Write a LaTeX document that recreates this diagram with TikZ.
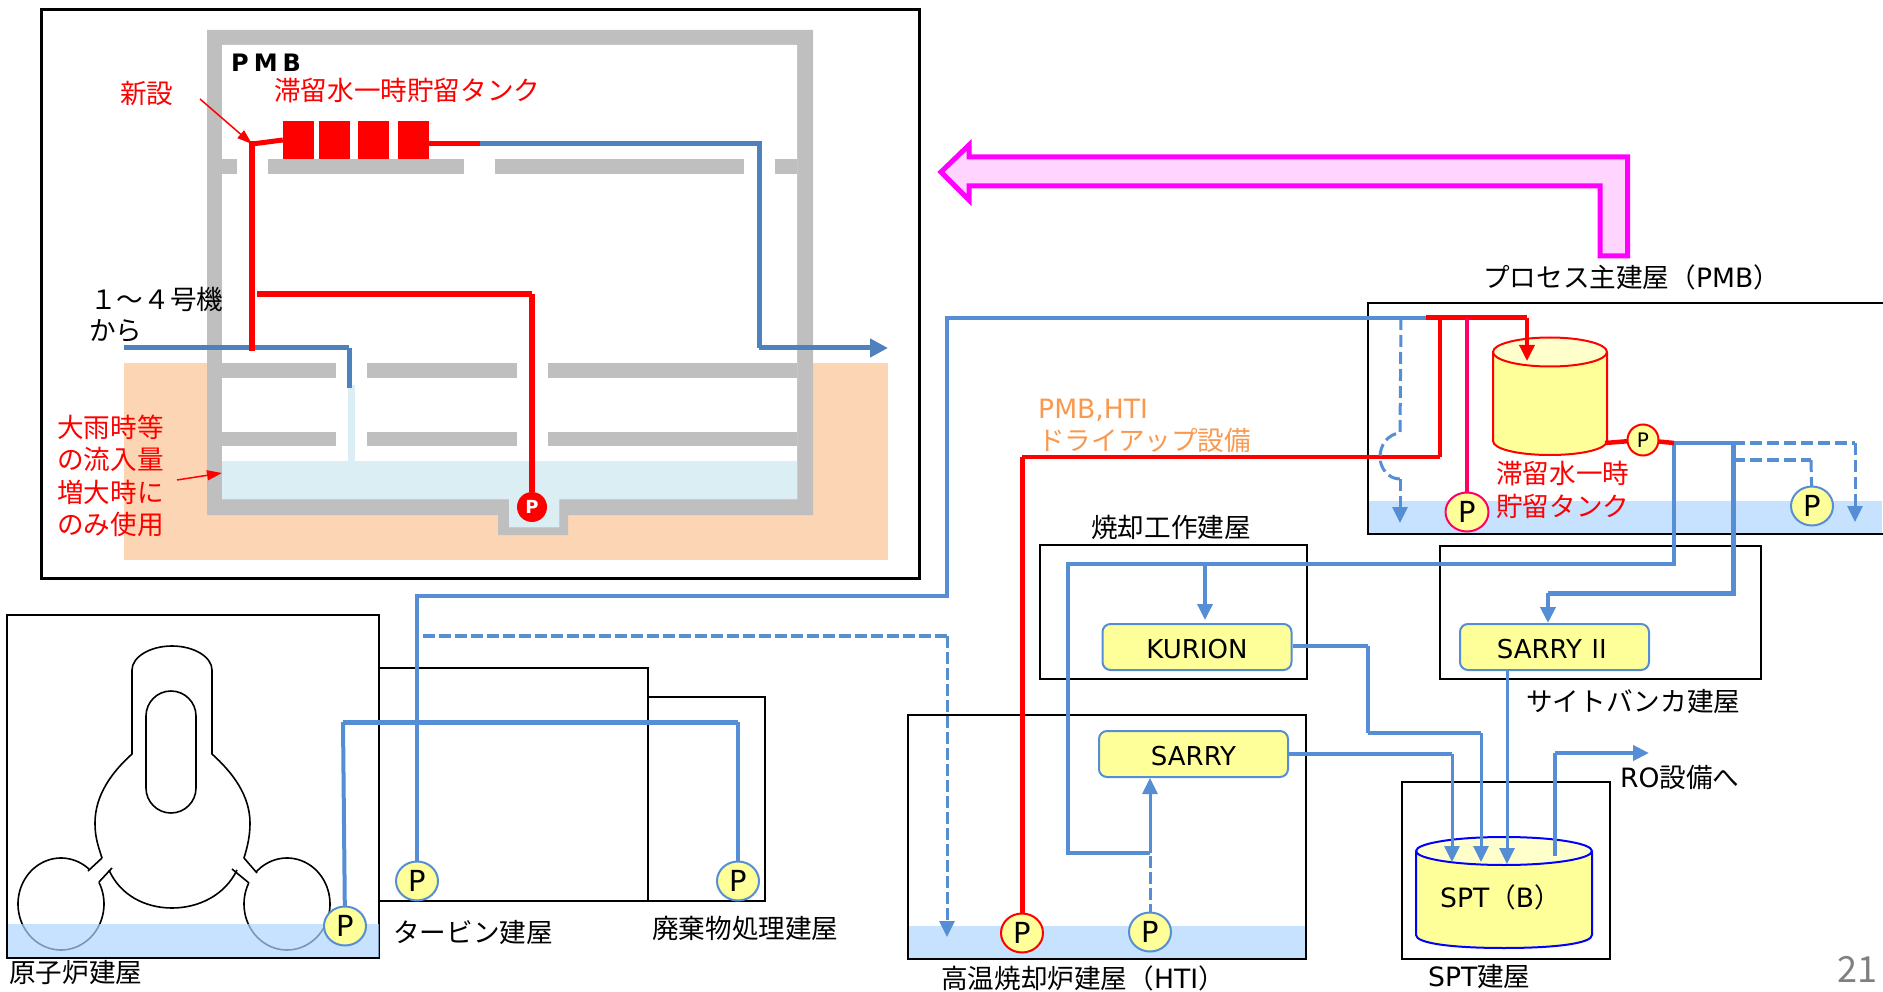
\documentclass[tikz,border=0pt]{standalone}
\usepackage{fontspec}
\setmainfont{Noto Sans CJK JP}
\newfontfamily\lat{DejaVu Sans}
\usetikzlibrary{arrows.meta,shapes.geometric}
\definecolor{wallgrey}{HTML}{BFBFBF}
\definecolor{soil}{HTML}{FCD5B4}
\definecolor{pool}{HTML}{DBEEF4}
\definecolor{waterblue}{HTML}{C6E2FF}
\definecolor{waterglass}{HTML}{AED6FF}
\definecolor{pipeblue}{HTML}{558ED5}
\definecolor{steelblue}{HTML}{4F81BD}
\definecolor{tankyellow}{HTML}{FFFF99}
\definecolor{tanktop}{HTML}{FFFFCC}
\definecolor{hotpink}{HTML}{FF0066}
\definecolor{drynote}{HTML}{F9994F}
\definecolor{bigpink}{HTML}{FFD5FF}
\definecolor{bigedge}{HTML}{FF00FF}
\tikzset{
  bldg/.style={draw=black,line width=2.5pt,fill=none,outer sep=0pt},
  txt/.style={inner sep=0pt,font=\fontsize{26.6}{32}\selectfont,align=left},
  rtxt/.style={txt,text=red},
  floorslab/.style={fill=wallgrey,draw=none},
  plant/.style={draw=pipeblue,line width=2pt,fill=tankyellow,rounded corners=8pt,minimum width=189pt,minimum height=46pt,inner sep=0pt,text height=22pt,text depth=0pt,font=\lat\fontsize{26}{32}\selectfont},
  pumpnode/.style={ellipse,draw=pipeblue,line width=2pt,fill=tankyellow,minimum width=42pt,minimum height=39pt,inner sep=0pt,font=\lat\fontsize{29}{32}\selectfont},
  pipe/.style={draw=pipeblue,line width=4pt},
  fatpipe/.style={draw=pipeblue,line width=5pt},
  dashpipe/.style={draw=pipeblue,line width=4pt,dash pattern=on 12pt off 4pt},
  redpipe/.style={draw=red,line width=5pt},
  tipb/.style={-{Triangle[length=16pt,width=15pt]}},
  thinred/.style={draw=red,line width=1.5pt,-{Triangle[length=15pt,width=10pt]}},
  core/.style={draw=black,line width=1.6pt}
}
\begin{document}
\begin{tikzpicture}[x=1pt,y=-1pt]
\useasboundingbox (0,0) rectangle (1883,992);
% ---------- PMB detail panel
\node[draw=black,line width=3pt,minimum width=878pt,minimum height=568pt,inner sep=0pt] (panel) at (480,294) {};
\fill[soil] (124,363) rectangle (888,560);
\fill[wallgrey] (207,30) -- (813,30) -- (813,515) -- (568,515) -- (568,535) -- (498,535) -- (498,515) -- (207,515) -- cycle;
\fill[white] (222,45) -- (797,45) -- (797,499) -- (559,499) -- (559,527) -- (509,527) -- (509,499) -- (222,499) -- cycle;
\fill[pool] (222,461) -- (797,461) -- (797,499) -- (559,499) -- (559,527) -- (509,527) -- (509,499) -- (222,499) -- cycle;
\fill[pool] (348,385) rectangle (355,461);
\foreach \a/\b in {222/237,268/464,495/744,775/797} \path[floorslab] (\a,159) rectangle (\b,174);
\foreach \a/\b in {222/336,367/517,548/797} {\path[floorslab] (\a,363) rectangle (\b,378); \path[floorslab] (\a,432) rectangle (\b,446);}
\foreach \n/\a/\b in {t1/283/314,t2/319/350,t3/358/389,t4/398/429}
  \node[fill=red,minimum width=\b pt-\a pt,minimum height=38pt,inner sep=0pt] (\n) at ({(\a+\b)/2},140) {};
\coordinate (topleft) at (252,144);
\coordinate (topmid) at (480,144);
\coordinate (topright) at (759,144);
\coordinate (exitb) at (759,348);
\coordinate (exitend) at (888,348);
\coordinate (inlet) at (124,348);
\coordinate (inletb) at (349,348);
\coordinate (inletend) at (349,388);
\coordinate (redjoin) at (252,348);
\coordinate (redup) at (257,294);
\coordinate (redbend) at (532,294);
\node[circle,fill=red,minimum size=30pt,inner sep=0pt,text=white,font=\lat\bfseries\fontsize{18}{20}\selectfont] (pPmbIn) at (532,507) {P};
\draw[draw=steelblue,line width=5pt] (inlet) -- (inletb);
\draw[draw=steelblue,line width=5pt] (inletb) -- (inletend);
\draw[draw=steelblue,line width=5pt] (topmid) -- (topright) -- (exitb);
\draw[draw=steelblue,line width=5pt,-{Triangle[length=18pt,width=18pt]}] (exitb) -- (exitend);
\draw[redpipe] (topleft) -- (t1.west);
\draw[redpipe] (t4.east |- topmid) -- (topmid);
\draw[redpipe,line width=6.5pt,line cap=rect] (topleft) -- (redjoin);
\draw[redpipe,line width=6.5pt] (redup) -- (redbend);
\draw[redpipe,line width=6pt] (redbend) -- (pPmbIn);
\node[inner sep=0pt,anchor=west,font=\lat\bfseries\fontsize{24}{30}\selectfont] (lPmb) at (231,63) {P\kern 5pt M\kern 5pt B};
\node[rtxt,anchor=west] (lNew) at (120,94) {新設};
\node[rtxt,anchor=west] (lTank) at (274,90.5) {滞留水一時貯留タンク};
\node[txt,anchor=west] (lFrom) at (90,299) {１～４号機};
\node[txt,anchor=west] (lFrom2) at (89,331) {から};
\node[rtxt,anchor=west,font=\fontsize{26.6}{32.5}\selectfont] (lRain) at (57,476) {大雨時等\\の流入量\\増大時に\\のみ使用};
\coordinate (newfrom) at (200,99);
\coordinate (rainfrom) at (177,480);
\coordinate (rainto) at (222,473);
\draw[thinred] (newfrom) -- (topleft);
\draw[thinred] (rainfrom) -- (rainto);
% ---------- big transfer arrow
\draw[draw=bigedge,line width=5pt,fill=bigpink,miter limit=10] (941,172) -- (969,145) -- (969,157) -- (1627.5,157) -- (1627.5,256) -- (1600,256) -- (1600,186) -- (969,186) -- (969,200) -- cycle;
% ---------- reactor building
\node[bldg,minimum width=372pt,minimum height=343pt,inner sep=0pt] (rb) at (193,786.5) {};
\node[bldg,minimum width=269pt,minimum height=233pt,inner sep=0pt] (tb) at (513.5,784.5) {};
\node[bldg,minimum width=117pt,minimum height=204pt,inner sep=0pt] (wb) at (706.5,799) {};
\draw[core] (102,858) .. controls (97,843) and (95,835) .. (95,823) .. controls (95,795) and (112,772) .. (132,754) -- (132,670) .. controls (132,657) and (150,646) .. (172,646) .. controls (194,646) and (212,657) .. (212,670) -- (212,754) .. controls (232,772) and (250,795) .. (250,823) .. controls (250,835) and (248,845) .. (244,858);
\draw[core] (109,870) .. controls (120,895) and (145,908) .. (172,908) .. controls (199,908) and (225,895) .. (237,870);
\draw[core,rounded corners=25pt] (146,691) rectangle (196,813);
\draw[core] plot[domain=-28:311,samples=80] ({61+43*cos(\x)},{904+46*sin(\x)});
\draw[core] plot[domain=-136:207,samples=80] ({287+43*cos(\x)},{904+46*sin(\x)});
\draw[core] (102,858) -- (88,871);
\draw[core] (112,868) -- (99,882);
\draw[core] (244,858) -- (257,873);
\draw[core] (232,869) -- (249,883);
\fill[waterglass,opacity=.7] (8,924) rectangle (379,957);
% ---------- other buildings
\node[bldg,minimum width=267pt,minimum height=134pt,inner sep=0pt] (kb) at (1173.5,612) {};
\node[bldg,minimum width=321pt,minimum height=133pt,inner sep=0pt] (sb) at (1600.5,612.5) {};
\fill[waterblue] (908,926) rectangle (1306,959);
\node[bldg,minimum width=398pt,minimum height=244pt,inner sep=0pt] (hb) at (1107,837) {};
\node[bldg,minimum width=208pt,minimum height=177pt,inner sep=0pt] (sptb) at (1506,870.5) {};
\fill[waterblue] (1368,501) rectangle (1882,534);
\draw[black,line width=2.5pt] (1883,303) -- (1368,303) -- (1368,534) -- (1883,534);
% ---------- plant boxes
\node[plant] (kurion) at (1197,647) {KURION};
\node[plant] (sarry2) at (1554.5,647) {SARRY\,{\fontfamily{\rmdefault}\selectfont Ⅱ}};
\node[plant] (sarry) at (1193.5,754) {SARRY};
% ---------- tanks
\fill[tankyellow] (1493,352) -- (1493,441) .. controls (1493,449) and (1518,455) .. (1550,455) .. controls (1582,455) and (1607,449) .. (1607,441) -- (1607,352) -- cycle;
\draw[red,line width=2pt] (1493,352) -- (1493,441) .. controls (1493,449) and (1518,455) .. (1550,455) .. controls (1582,455) and (1607,449) .. (1607,441) -- (1607,352);
\node[ellipse,draw=red,line width=2pt,fill=tanktop,minimum width=114pt,minimum height=29pt,inner sep=0pt] (tankP) at (1550,352) {};
\fill[tankyellow] (1416,852) -- (1416,935) .. controls (1416,943) and (1450,948) .. (1504,948) .. controls (1558,948) and (1592,943) .. (1592,935) -- (1592,852) -- cycle;
\draw[blue,line width=2pt] (1416,852) -- (1416,935) .. controls (1416,943) and (1450,948) .. (1504,948) .. controls (1558,948) and (1592,943) .. (1592,935) -- (1592,852);
\node[ellipse,draw=blue,line width=2pt,fill=tanktop,minimum width=176pt,minimum height=28pt,inner sep=0pt] (tankS) at (1504,851) {};
% ---------- pipe end points
\coordinate (pR) at (345,926);
\coordinate (pT) at (417,881);
\coordinate (pW) at (738,881);
\coordinate (pH1) at (1022,933);
\coordinate (pH2) at (1150,932);
\coordinate (pP1) at (1467,512);
\coordinate (pP2) at (1812,506);
\coordinate (pTk) at (1643,440);
\coordinate (a1) at (417,596);
\coordinate (a2) at (947,596);
\coordinate (a3) at (947,318);
\coordinate (a4) at (1426,318);
\coordinate (d1) at (423,636);
\coordinate (d2) at (947,636);
\coordinate (d3) at (947,937);
\coordinate (b1) at (343,722);
\coordinate (b2) at (738,722);
\coordinate (j1) at (1674,443);
\coordinate (j2) at (1733,443);
\coordinate (j3) at (1674,564);
\coordinate (j4) at (1068,564);
\coordinate (j5) at (1068,853);
\coordinate (j6) at (1150,853);
\coordinate (j7) at (1205,564);
\coordinate (k1) at (1733,593);
\coordinate (k2) at (1548,593);
\coordinate (k3) at (1368,646);
\coordinate (k4) at (1368,733);
\coordinate (k5) at (1481,733);
\coordinate (k6) at (1481,862);
\coordinate (s1) at (1452,754);
\coordinate (s2) at (1452,862);
\coordinate (s3) at (1507,864);
\coordinate (o1) at (1555,856);
\coordinate (o2) at (1555,753);
\coordinate (o3) at (1649,753);
% ---------- blue network
\draw[pipe] (pT) -- (a1) -- (a2) -- (a3) -- (a4);
\draw[dashpipe] (d1) -- (d2);
\draw[draw=pipeblue,line width=3pt,dash pattern=on 12pt off 4pt,tipb] (d2) -- (d3);
\draw[pipe] (pR) -- (b1);
\draw[fatpipe] (b1) -- (b2);
\draw[pipe] (b2) -- (pW);
\draw[pipe] (j1) -- (j3) -- (j4) -- (j5) -- (j6);
\draw[fatpipe] (j2) -- (k1) -- (k2);
\draw[pipe] (j1) -- (j2);
\draw[draw=pipeblue,line width=4pt,tipb] (k2) -- (k2 |- sarry2.north);
\draw[draw=pipeblue,line width=3.5pt,tipb] (j7) -- (j7 |- 0,620);
\draw[draw=pipeblue,line width=4.5pt] (kurion.east |- k3) -- (k3);
\draw[draw=pipeblue,line width=3.7pt] (k3) -- (k4);
\draw[draw=pipeblue,line width=4pt] (k4) -- (k5);
\draw[draw=pipeblue,line width=3pt,tipb] (k5) -- (k6);
\draw[draw=pipeblue,line width=4pt] (sarry.east) -- (s1);
\draw[draw=pipeblue,line width=3pt,tipb] (s1) -- (s2);
\draw[draw=pipeblue,line width=3pt,tipb] (s3 |- sarry2.south) -- (s3);
\draw[draw=pipeblue,line width=3pt,dash pattern=on 12pt off 4pt] (pH2) -- (j6);
\draw[draw=pipeblue,line width=3pt,tipb] (j6) -- (pH2 |- sarry.south);
\draw[draw=pipeblue,line width=3.5pt] (o1) -- (o2);
\draw[draw=pipeblue,line width=4pt,tipb] (o2) -- (o3);
% ---------- dashed, PMB side
\coordinate (h1) at (1401,318);
\coordinate (h2) at (1400,433);
\coordinate (h3) at (1380,457);
\coordinate (h4) at (1400,479);
\coordinate (h5) at (1400,523);
\coordinate (q1) at (1855,443);
\coordinate (q2) at (1855,522);
\coordinate (q3) at (1733,460);
\coordinate (q4) at (1811,460);
% ---------- red network
\coordinate (r1) at (1022,457);
\coordinate (r2) at (1440,457);
\coordinate (r3) at (1440,318);
\coordinate (r4) at (1527,318);
\coordinate (r5) at (1527,361);
\coordinate (r6) at (1467,318);
\coordinate (r7) at (1605,443);
\coordinate (r8) at (1674,443);
\draw[redpipe] (pH1) -- (r1);
\draw[draw=red,line width=4pt] (r1) -- (r2);
\draw[redpipe,line width=4.5pt] (r2) -- (r3);
\draw[redpipe] (a4) -- (r4);
\draw[draw=red,line width=3.5pt,tipb] (r4) -- (r5);
\draw[draw=hotpink,line width=4.5pt] (r6) -- (pP1);
\draw[draw=red,line width=4.5pt] (r7) -- (pTk);
\draw[draw=red,line width=4.5pt] (pTk) -- (r8);
\draw[draw=pipeblue,line width=3pt,dash pattern=on 12pt off 5pt] (h1) -- (h2) .. controls (1388,434) and (1380,445) .. (h3) .. controls (1380,468) and (1388,479) .. (h4);
\draw[draw=pipeblue,line width=3pt,dash pattern=on 12pt off 5pt,tipb] (h4) -- (h5);
\draw[draw=pipeblue,line width=3.5pt,dash pattern=on 12pt off 5pt] (j2) -- (q1);
\draw[draw=pipeblue,line width=3pt,dash pattern=on 12pt off 5pt,tipb] (q1) -- (q2);
\draw[draw=pipeblue,line width=3.5pt,dash pattern=on 12pt off 5pt] (q3) -- (q4);
\draw[draw=pipeblue,line width=3pt,dash pattern=on 12pt off 5pt] (q4) -- (pP2);
% ---------- pumps, above their pipes
\node[pumpnode] (pumpR) at (pR) {P};
\node[pumpnode] (pumpT) at (pT) {P};
\node[pumpnode] (pumpW) at (pW) {P};
\node[pumpnode,draw=red] (pumpH1) at (pH1) {P};
\node[pumpnode] (pumpH2) at (pH2) {P};
\node[pumpnode,draw=hotpink,minimum width=43pt,minimum height=39pt] (pumpP1) at (pP1) {P};
\node[pumpnode] (pumpP2) at (pP2) {P};
\node[pumpnode,draw=red,minimum width=31pt,minimum height=31pt,font=\lat\fontsize{20}{22}\selectfont] (pumpTk) at (pTk) {P};
% ---------- labels
\node[txt,anchor=west] (lRb) at (9,973) {原子炉建屋};
\node[txt,anchor=west] (lTb) at (393,933) {タービン建屋};
\node[txt,anchor=west] (lWb) at (652,928) {廃棄物処理建屋};
\node[txt,anchor=west] (lKb) at (1091,527) {焼却工作建屋};
\node[txt,anchor=west] (lSb) at (1526,702) {サイトバンカ建屋};
\node[txt,anchor=west] (lHb) at (941,978) {高温焼却炉建屋（{\lat HTI}）};
\node[txt,anchor=west] (lSpb) at (1428,977) {{\lat SPT}建屋};
\node[txt,anchor=west] (lSpt) at (1440,897) {{\lat SPT}（{\lat B}）};
\node[txt,anchor=west] (lRo) at (1620,777) {{\lat RO}設備へ};
\node[txt,anchor=west] (lPmbT) at (1483,277) {プロセス主建屋（{\lat PMB}）};
\node[rtxt,anchor=west] (lTk1) at (1496,474) {滞留水一時};
\node[rtxt,anchor=west] (lTk2) at (1496,506) {貯留タンク};
\node[txt,anchor=west,text=drynote] (lDry1) at (1038,410) {\lat PMB,HTI};
\node[txt,anchor=west,text=drynote] (lDry2) at (1038,440) {ドライアップ設備};
\node[txt,anchor=west,text=gray,font=\fontsize{36}{40}\selectfont] (lPage) at (1837,969) {21};
\end{tikzpicture}
\end{document}
